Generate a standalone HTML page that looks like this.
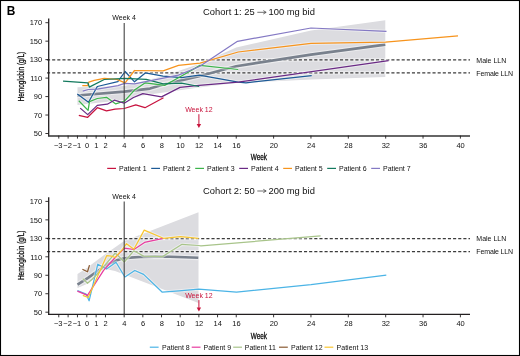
<!DOCTYPE html>
<html><head><meta charset="utf-8"><style>
html,body{margin:0;padding:0;background:#fff;width:520px;height:356px;overflow:hidden;font-family:"Liberation Sans", sans-serif;}
</style></head><body>
<svg width="520" height="356" viewBox="0 0 520 356" style="position:absolute;left:0;top:0;will-change:transform" font-family='"Liberation Sans", sans-serif'>
<rect x="0" y="0" width="520" height="356" fill="#fff"/>
<polygon points="77.5,87.2 124.2,86 163.5,76 199,64 236.2,47.5 311,30.5 385.3,20.3 385.3,77 311,79.6 236.2,83 199,87.5 163.5,92.5 142.8,95.5 124.2,100 77.5,105" fill="#dcdce0" stroke="none" />
<line x1="77" y1="59.9" x2="386" y2="59.9" stroke="#fff" stroke-opacity="0.5" stroke-width="3.2"/>
<line x1="47" y1="59.9" x2="470" y2="59.9" stroke="#3c3c3c" stroke-width="1.25" stroke-dasharray="3.1 2.04"/>
<line x1="77" y1="72.95" x2="386" y2="72.95" stroke="#fff" stroke-opacity="0.5" stroke-width="3.2"/>
<line x1="47" y1="72.95" x2="470" y2="72.95" stroke="#3c3c3c" stroke-width="1.25" stroke-dasharray="3.1 2.04"/>
<polyline points="77.5,95.5 124.2,91.6 150,88.6 163.5,84.5 199,76.2 236.2,66.2 311,54.6 385.3,44.6" fill="none" stroke="#fff" stroke-width="5.0" stroke-linejoin="round" stroke-linecap="butt" stroke-opacity="0.45"/>
<polyline points="77.5,95.5 124.2,91.6 150,88.6 163.5,84.5 199,76.2 236.2,66.2 311,54.6 385.3,44.6" fill="none" stroke="#79818d" stroke-width="2.65" stroke-linejoin="round" stroke-linecap="butt" />
<polyline points="78.8,115.4 87.7,117.3 97.3,107.7 106.5,110.8 115,109.2 124.2,108.5 135.8,104.9 145,107.7 163.5,97.7" fill="none" stroke="#fff" stroke-width="3.2" stroke-linejoin="round" stroke-linecap="butt" stroke-opacity="0.45"/>
<polyline points="77.3,94 88.5,102.3 97.3,86.5 117.8,81.6 125.1,71.5 134.5,81.8 145.3,72.9 163.1,76.2 181.5,77.7 199.2,75.1 238.2,82.1 246,82.8 311.7,75.6" fill="none" stroke="#fff" stroke-width="3.2" stroke-linejoin="round" stroke-linecap="butt" stroke-opacity="0.45"/>
<polyline points="78.8,100.8 88.1,110.4 89.5,101.7 97.3,98.5 106.5,97.3 115.8,103.9 124.6,101 134.5,90.1 145.3,82.8 164.6,85.4 178.5,77.7 200,65.4 238.2,69.5" fill="none" stroke="#fff" stroke-width="3.2" stroke-linejoin="round" stroke-linecap="butt" stroke-opacity="0.45"/>
<polyline points="80.2,108.1 87.7,114.6 97.3,105.4 107.3,104.2 114.3,100.2 124.2,103.2 133.5,97.5 142.8,93.6 161.5,96.9 180,87.4 199.2,85.4 238.2,82.1 388.6,60.6" fill="none" stroke="#fff" stroke-width="3.2" stroke-linejoin="round" stroke-linecap="butt" stroke-opacity="0.45"/>
<polyline points="82.3,85.7 87.7,85.7 88.8,82.2 94.2,80.3 104.2,78.4 116.8,79.3 125.1,82.8 134.5,70.5 163.1,70.8 178.5,65.4 200,63.1 238.2,52 311,43.4 385.5,42.1 458,35.8" fill="none" stroke="#fff" stroke-width="3.2" stroke-linejoin="round" stroke-linecap="butt" stroke-opacity="0.45"/>
<polyline points="63.05,81.2 87.9,82.8 89.3,87.1 104.2,79.5 124.6,78.3 146.3,79.3 163.1,83.8 181.5,83.1 199.2,86.5" fill="none" stroke="#fff" stroke-width="3.2" stroke-linejoin="round" stroke-linecap="butt" stroke-opacity="0.45"/>
<polyline points="82.7,91.1 88.3,89.5 97.3,89.2 118,85.7 124.6,83.3 134.5,83.8 178.5,75.2 199.5,66.5 237.5,41.3 311,28 386.5,31.4" fill="none" stroke="#fff" stroke-width="3.2" stroke-linejoin="round" stroke-linecap="butt" stroke-opacity="0.45"/>
<polyline points="78.8,115.4 87.7,117.3 97.3,107.7 106.5,110.8 115,109.2 124.2,108.5 135.8,104.9 145,107.7 163.5,97.7" fill="none" stroke="#c8133f" stroke-width="1.25" stroke-linejoin="round" stroke-linecap="butt" />
<polyline points="77.3,94 88.5,102.3 97.3,86.5 117.8,81.6 125.1,71.5 134.5,81.8 145.3,72.9 163.1,76.2 181.5,77.7 199.2,75.1 238.2,82.1 246,82.8 311.7,75.6" fill="none" stroke="#1d5a96" stroke-width="1.25" stroke-linejoin="round" stroke-linecap="butt" />
<polyline points="78.8,100.8 88.1,110.4 89.5,101.7 97.3,98.5 106.5,97.3 115.8,103.9 124.6,101 134.5,90.1 145.3,82.8 164.6,85.4 178.5,77.7 200,65.4 238.2,69.5" fill="none" stroke="#3cb44b" stroke-width="1.25" stroke-linejoin="round" stroke-linecap="butt" />
<polyline points="80.2,108.1 87.7,114.6 97.3,105.4 107.3,104.2 114.3,100.2 124.2,103.2 133.5,97.5 142.8,93.6 161.5,96.9 180,87.4 199.2,85.4 238.2,82.1 388.6,60.6" fill="none" stroke="#6a2a85" stroke-width="1.25" stroke-linejoin="round" stroke-linecap="butt" />
<polyline points="82.3,85.7 87.7,85.7 88.8,82.2 94.2,80.3 104.2,78.4 116.8,79.3 125.1,82.8 134.5,70.5 163.1,70.8 178.5,65.4 200,63.1 238.2,52 311,43.4 385.5,42.1 458,35.8" fill="none" stroke="#f7941d" stroke-width="1.25" stroke-linejoin="round" stroke-linecap="butt" />
<polyline points="63.05,81.2 87.9,82.8 89.3,87.1 104.2,79.5 124.6,78.3 146.3,79.3 163.1,83.8 181.5,83.1 199.2,86.5" fill="none" stroke="#137a5e" stroke-width="1.25" stroke-linejoin="round" stroke-linecap="butt" />
<polyline points="82.7,91.1 88.3,89.5 97.3,89.2 118,85.7 124.6,83.3 134.5,83.8 178.5,75.2 199.5,66.5 237.5,41.3 311,28 386.5,31.4" fill="none" stroke="#8479c4" stroke-width="1.25" stroke-linejoin="round" stroke-linecap="butt" />
<line x1="124.2" y1="22.9" x2="124.2" y2="135.6" stroke="#444" stroke-width="1.1"/>
<line x1="48.7" y1="18.5" x2="48.7" y2="136.2" stroke="#231f20" stroke-width="1.3"/>
<line x1="48.05" y1="135.95" x2="470" y2="135.95" stroke="#333" stroke-width="1.5"/>
<line x1="45.4" y1="133.5" x2="48.7" y2="133.5" stroke="#231f20" stroke-width="0.9"/>
<text x="42.2" y="136.2" font-size="7.5" text-anchor="end" fill="#111" font-weight="normal" >50</text>
<line x1="45.4" y1="115.03" x2="48.7" y2="115.03" stroke="#231f20" stroke-width="0.9"/>
<text x="42.2" y="117.73" font-size="7.5" text-anchor="end" fill="#111" font-weight="normal" >70</text>
<line x1="45.4" y1="96.57" x2="48.7" y2="96.57" stroke="#231f20" stroke-width="0.9"/>
<text x="42.2" y="99.27" font-size="7.5" text-anchor="end" fill="#111" font-weight="normal" >90</text>
<line x1="45.4" y1="78.1" x2="48.7" y2="78.1" stroke="#231f20" stroke-width="0.9"/>
<text x="42.2" y="80.8" font-size="7.5" text-anchor="end" fill="#111" font-weight="normal" >110</text>
<line x1="45.4" y1="59.64" x2="48.7" y2="59.64" stroke="#231f20" stroke-width="0.9"/>
<text x="42.2" y="62.34" font-size="7.5" text-anchor="end" fill="#111" font-weight="normal" >130</text>
<line x1="45.4" y1="41.17" x2="48.7" y2="41.17" stroke="#231f20" stroke-width="0.9"/>
<text x="42.2" y="43.87" font-size="7.5" text-anchor="end" fill="#111" font-weight="normal" >150</text>
<line x1="45.4" y1="22.7" x2="48.7" y2="22.7" stroke="#231f20" stroke-width="0.9"/>
<text x="42.2" y="25.4" font-size="7.5" text-anchor="end" fill="#111" font-weight="normal" >170</text>
<line x1="58.78" y1="135.6" x2="58.78" y2="138.6" stroke="#231f20" stroke-width="0.9"/>
<text x="58.28" y="147.6" font-size="7.5" text-anchor="middle" fill="#111" font-weight="normal" >−3</text>
<line x1="68.12" y1="135.6" x2="68.12" y2="138.6" stroke="#231f20" stroke-width="0.9"/>
<text x="67.62" y="147.6" font-size="7.5" text-anchor="middle" fill="#111" font-weight="normal" >−2</text>
<line x1="77.46" y1="135.6" x2="77.46" y2="138.6" stroke="#231f20" stroke-width="0.9"/>
<text x="76.96" y="147.6" font-size="7.5" text-anchor="middle" fill="#111" font-weight="normal" >−1</text>
<line x1="86.8" y1="135.6" x2="86.8" y2="138.6" stroke="#231f20" stroke-width="0.9"/>
<text x="87" y="147.6" font-size="7.5" text-anchor="middle" fill="#111" font-weight="normal" >0</text>
<line x1="96.14" y1="135.6" x2="96.14" y2="138.6" stroke="#231f20" stroke-width="0.9"/>
<text x="96.34" y="147.6" font-size="7.5" text-anchor="middle" fill="#111" font-weight="normal" >1</text>
<line x1="105.48" y1="135.6" x2="105.48" y2="138.6" stroke="#231f20" stroke-width="0.9"/>
<text x="105.68" y="147.6" font-size="7.5" text-anchor="middle" fill="#111" font-weight="normal" >2</text>
<line x1="124.16" y1="135.6" x2="124.16" y2="138.6" stroke="#231f20" stroke-width="0.9"/>
<text x="124.36" y="147.6" font-size="7.5" text-anchor="middle" fill="#111" font-weight="normal" >4</text>
<line x1="142.84" y1="135.6" x2="142.84" y2="138.6" stroke="#231f20" stroke-width="0.9"/>
<text x="143.04" y="147.6" font-size="7.5" text-anchor="middle" fill="#111" font-weight="normal" >6</text>
<line x1="161.52" y1="135.6" x2="161.52" y2="138.6" stroke="#231f20" stroke-width="0.9"/>
<text x="161.72" y="147.6" font-size="7.5" text-anchor="middle" fill="#111" font-weight="normal" >8</text>
<line x1="180.2" y1="135.6" x2="180.2" y2="138.6" stroke="#231f20" stroke-width="0.9"/>
<text x="180.4" y="147.6" font-size="7.5" text-anchor="middle" fill="#111" font-weight="normal" >10</text>
<line x1="198.88" y1="135.6" x2="198.88" y2="138.6" stroke="#231f20" stroke-width="0.9"/>
<text x="199.08" y="147.6" font-size="7.5" text-anchor="middle" fill="#111" font-weight="normal" >12</text>
<line x1="217.56" y1="135.6" x2="217.56" y2="138.6" stroke="#231f20" stroke-width="0.9"/>
<text x="217.76" y="147.6" font-size="7.5" text-anchor="middle" fill="#111" font-weight="normal" >14</text>
<line x1="236.24" y1="135.6" x2="236.24" y2="138.6" stroke="#231f20" stroke-width="0.9"/>
<text x="236.44" y="147.6" font-size="7.5" text-anchor="middle" fill="#111" font-weight="normal" >16</text>
<line x1="273.6" y1="135.6" x2="273.6" y2="138.6" stroke="#231f20" stroke-width="0.9"/>
<text x="273.8" y="147.6" font-size="7.5" text-anchor="middle" fill="#111" font-weight="normal" >20</text>
<line x1="310.96" y1="135.6" x2="310.96" y2="138.6" stroke="#231f20" stroke-width="0.9"/>
<text x="311.16" y="147.6" font-size="7.5" text-anchor="middle" fill="#111" font-weight="normal" >24</text>
<line x1="348.32" y1="135.6" x2="348.32" y2="138.6" stroke="#231f20" stroke-width="0.9"/>
<text x="348.52" y="147.6" font-size="7.5" text-anchor="middle" fill="#111" font-weight="normal" >28</text>
<line x1="385.68" y1="135.6" x2="385.68" y2="138.6" stroke="#231f20" stroke-width="0.9"/>
<text x="385.88" y="147.6" font-size="7.5" text-anchor="middle" fill="#111" font-weight="normal" >32</text>
<line x1="423.04" y1="135.6" x2="423.04" y2="138.6" stroke="#231f20" stroke-width="0.9"/>
<text x="423.24" y="147.6" font-size="7.5" text-anchor="middle" fill="#111" font-weight="normal" >36</text>
<line x1="460.4" y1="135.6" x2="460.4" y2="138.6" stroke="#231f20" stroke-width="0.9"/>
<text x="460.6" y="147.6" font-size="7.5" text-anchor="middle" fill="#111" font-weight="normal" >40</text>
<text x="124.1" y="19.8" font-size="7" text-anchor="middle" fill="#111" font-weight="normal" >Week 4</text>
<text x="476.3" y="62.5" font-size="7" text-anchor="start" fill="#111" font-weight="normal" >Male LLN</text>
<text x="476.3" y="75.6" font-size="7" text-anchor="start" fill="#111" font-weight="normal" letter-spacing="-0.14">Female LLN</text>
<text x="258.9" y="159.8" font-size="9.2" text-anchor="middle" fill="#111" font-weight="normal" stroke="#111" stroke-width="0.35" transform="translate(258.9 0) scale(0.7 1) translate(-258.9 0)">Week</text>
<text x="0" y="0" font-size="9" text-anchor="middle" fill="#111" stroke="#111" stroke-width="0.3" transform="translate(24.1 76.6) rotate(-90) scale(0.72 1)">Hemoglobin (g/L)</text>
<text x="203.1" y="14.9" font-size="9.4" text-anchor="start" fill="#111" font-weight="normal" >Cohort 1: 25</text>
<text x="314.9" y="14.9" font-size="9.4" text-anchor="end" fill="#111" font-weight="normal" >100 mg bid</text>
<line x1="257.3" y1="12.3" x2="265.5" y2="12.3" stroke="#222" stroke-width="0.65"/>
<path d="M263.3 10.6 L266.2 12.3 L263.3 14" fill="none" stroke="#222" stroke-width="0.65"/>
<text x="198.9" y="111.8" font-size="7" text-anchor="middle" fill="#c8143c" font-weight="normal" >Week 12</text>
<line x1="198.9" y1="114.2" x2="198.9" y2="124.5" stroke="#c8143c" stroke-width="1"/>
<polygon points="196.7,124 201.1,124 198.9,128" fill="#c8143c" stroke="none" />
<polygon points="77.5,274 86.8,268 96.1,261 105.5,254 124.2,241 198.5,212.2 198.5,303 124.2,274.5 115,271 105.5,269 96.1,276 86.8,284 77.5,288" fill="#dcdce0" stroke="none" />
<line x1="77" y1="238.6" x2="386" y2="238.6" stroke="#fff" stroke-opacity="0.5" stroke-width="3.2"/>
<line x1="47" y1="238.6" x2="470" y2="238.6" stroke="#3c3c3c" stroke-width="1.25" stroke-dasharray="3.1 2.04"/>
<line x1="77" y1="251.65" x2="386" y2="251.65" stroke="#fff" stroke-opacity="0.5" stroke-width="3.2"/>
<line x1="47" y1="251.65" x2="470" y2="251.65" stroke="#3c3c3c" stroke-width="1.25" stroke-dasharray="3.1 2.04"/>
<polyline points="77.5,284.7 88,277.8 98,270.8 108,264.3 116,260.6 122,258.8 130,257.6 140,257 155,256.6 170,256.7 185,257.2 198.3,257.7" fill="none" stroke="#fff" stroke-width="5.0" stroke-linejoin="round" stroke-linecap="butt" stroke-opacity="0.45"/>
<polyline points="77.5,284.7 88,277.8 98,270.8 108,264.3 116,260.6 122,258.8 130,257.6 140,257 155,256.6 170,256.7 185,257.2 198.3,257.7" fill="none" stroke="#79818d" stroke-width="2.65" stroke-linejoin="round" stroke-linecap="butt" />
<polyline points="77.4,290.7 86.1,294.1 89.1,300.8 97.8,264.2 106.5,269 116,262.2 124.9,277 134.8,270.5 143.6,274.4 162.3,292.2 179,290.8 198.7,289.2 236.5,292.1 311,284.6 386.3,275.2" fill="none" stroke="#fff" stroke-width="3.2" stroke-linejoin="round" stroke-linecap="butt" stroke-opacity="0.45"/>
<polyline points="77.4,291.1 87.5,295.4 97.3,280.2 103.6,270.4 112,261 119.1,253.5 124.4,248.2 133.9,249.5 144.5,242.4 163.3,238.3" fill="none" stroke="#fff" stroke-width="3.2" stroke-linejoin="round" stroke-linecap="butt" stroke-opacity="0.45"/>
<polyline points="82.8,278.6 87.5,283.3 92.2,279.3 98,273.2 114.9,253.5 116.6,254.2 124.3,262 133.8,250.8 143.6,256.1 162.3,256.7 182,244.3 198.5,245.5 201,245.9 320.6,235.8" fill="none" stroke="#fff" stroke-width="3.2" stroke-linejoin="round" stroke-linecap="butt" stroke-opacity="0.45"/>
<polyline points="82.4,269.2 87.5,271.8 89.5,265.1" fill="none" stroke="#fff" stroke-width="3.2" stroke-linejoin="round" stroke-linecap="butt" stroke-opacity="0.45"/>
<polyline points="82.8,295.4 88.2,297.5 106.8,255.6 111.5,256.2 115,257.5 122,250 126.5,243.7 133.9,249.3 144.2,230.1 163.3,238.3 180.5,236.7 198.5,238.3" fill="none" stroke="#fff" stroke-width="3.2" stroke-linejoin="round" stroke-linecap="butt" stroke-opacity="0.45"/>
<polyline points="77.4,290.7 86.1,294.1 89.1,300.8 97.8,264.2 106.5,269 116,262.2 124.9,277 134.8,270.5 143.6,274.4 162.3,292.2 179,290.8 198.7,289.2 236.5,292.1 311,284.6 386.3,275.2" fill="none" stroke="#4bb4e6" stroke-width="1.25" stroke-linejoin="round" stroke-linecap="butt" />
<polyline points="77.4,291.1 87.5,295.4 97.3,280.2 103.6,270.4 112,261 119.1,253.5 124.4,248.2 133.9,249.5 144.5,242.4 163.3,238.3" fill="none" stroke="#e83ca0" stroke-width="1.25" stroke-linejoin="round" stroke-linecap="butt" />
<polyline points="82.8,278.6 87.5,283.3 92.2,279.3 98,273.2 114.9,253.5 116.6,254.2 124.3,262 133.8,250.8 143.6,256.1 162.3,256.7 182,244.3 198.5,245.5 201,245.9 320.6,235.8" fill="none" stroke="#a8c48a" stroke-width="1.25" stroke-linejoin="round" stroke-linecap="butt" />
<polyline points="82.4,269.2 87.5,271.8 89.5,265.1" fill="none" stroke="#8a5a32" stroke-width="1.25" stroke-linejoin="round" stroke-linecap="butt" />
<polyline points="82.8,295.4 88.2,297.5 106.8,255.6 111.5,256.2 115,257.5 122,250 126.5,243.7 133.9,249.3 144.2,230.1 163.3,238.3 180.5,236.7 198.5,238.3" fill="none" stroke="#f9c630" stroke-width="1.25" stroke-linejoin="round" stroke-linecap="butt" />
<line x1="124.2" y1="201.6" x2="124.2" y2="314.3" stroke="#444" stroke-width="1.1"/>
<line x1="48.7" y1="197.2" x2="48.7" y2="314.9" stroke="#231f20" stroke-width="1.3"/>
<line x1="48.05" y1="314.4" x2="470" y2="314.4" stroke="#231f20" stroke-width="1.3"/>
<line x1="45.4" y1="312.2" x2="48.7" y2="312.2" stroke="#231f20" stroke-width="0.9"/>
<text x="42.2" y="314.9" font-size="7.5" text-anchor="end" fill="#111" font-weight="normal" >50</text>
<line x1="45.4" y1="293.73" x2="48.7" y2="293.73" stroke="#231f20" stroke-width="0.9"/>
<text x="42.2" y="296.43" font-size="7.5" text-anchor="end" fill="#111" font-weight="normal" >70</text>
<line x1="45.4" y1="275.27" x2="48.7" y2="275.27" stroke="#231f20" stroke-width="0.9"/>
<text x="42.2" y="277.97" font-size="7.5" text-anchor="end" fill="#111" font-weight="normal" >90</text>
<line x1="45.4" y1="256.8" x2="48.7" y2="256.8" stroke="#231f20" stroke-width="0.9"/>
<text x="42.2" y="259.5" font-size="7.5" text-anchor="end" fill="#111" font-weight="normal" >110</text>
<line x1="45.4" y1="238.34" x2="48.7" y2="238.34" stroke="#231f20" stroke-width="0.9"/>
<text x="42.2" y="241.04" font-size="7.5" text-anchor="end" fill="#111" font-weight="normal" >130</text>
<line x1="45.4" y1="219.87" x2="48.7" y2="219.87" stroke="#231f20" stroke-width="0.9"/>
<text x="42.2" y="222.57" font-size="7.5" text-anchor="end" fill="#111" font-weight="normal" >150</text>
<line x1="45.4" y1="201.4" x2="48.7" y2="201.4" stroke="#231f20" stroke-width="0.9"/>
<text x="42.2" y="204.1" font-size="7.5" text-anchor="end" fill="#111" font-weight="normal" >170</text>
<line x1="58.78" y1="314.3" x2="58.78" y2="317.3" stroke="#231f20" stroke-width="0.9"/>
<text x="58.28" y="326.3" font-size="7.5" text-anchor="middle" fill="#111" font-weight="normal" >−3</text>
<line x1="68.12" y1="314.3" x2="68.12" y2="317.3" stroke="#231f20" stroke-width="0.9"/>
<text x="67.62" y="326.3" font-size="7.5" text-anchor="middle" fill="#111" font-weight="normal" >−2</text>
<line x1="77.46" y1="314.3" x2="77.46" y2="317.3" stroke="#231f20" stroke-width="0.9"/>
<text x="76.96" y="326.3" font-size="7.5" text-anchor="middle" fill="#111" font-weight="normal" >−1</text>
<line x1="86.8" y1="314.3" x2="86.8" y2="317.3" stroke="#231f20" stroke-width="0.9"/>
<text x="87" y="326.3" font-size="7.5" text-anchor="middle" fill="#111" font-weight="normal" >0</text>
<line x1="96.14" y1="314.3" x2="96.14" y2="317.3" stroke="#231f20" stroke-width="0.9"/>
<text x="96.34" y="326.3" font-size="7.5" text-anchor="middle" fill="#111" font-weight="normal" >1</text>
<line x1="105.48" y1="314.3" x2="105.48" y2="317.3" stroke="#231f20" stroke-width="0.9"/>
<text x="105.68" y="326.3" font-size="7.5" text-anchor="middle" fill="#111" font-weight="normal" >2</text>
<line x1="124.16" y1="314.3" x2="124.16" y2="317.3" stroke="#231f20" stroke-width="0.9"/>
<text x="124.36" y="326.3" font-size="7.5" text-anchor="middle" fill="#111" font-weight="normal" >4</text>
<line x1="142.84" y1="314.3" x2="142.84" y2="317.3" stroke="#231f20" stroke-width="0.9"/>
<text x="143.04" y="326.3" font-size="7.5" text-anchor="middle" fill="#111" font-weight="normal" >6</text>
<line x1="161.52" y1="314.3" x2="161.52" y2="317.3" stroke="#231f20" stroke-width="0.9"/>
<text x="161.72" y="326.3" font-size="7.5" text-anchor="middle" fill="#111" font-weight="normal" >8</text>
<line x1="180.2" y1="314.3" x2="180.2" y2="317.3" stroke="#231f20" stroke-width="0.9"/>
<text x="180.4" y="326.3" font-size="7.5" text-anchor="middle" fill="#111" font-weight="normal" >10</text>
<line x1="198.88" y1="314.3" x2="198.88" y2="317.3" stroke="#231f20" stroke-width="0.9"/>
<text x="199.08" y="326.3" font-size="7.5" text-anchor="middle" fill="#111" font-weight="normal" >12</text>
<line x1="217.56" y1="314.3" x2="217.56" y2="317.3" stroke="#231f20" stroke-width="0.9"/>
<text x="217.76" y="326.3" font-size="7.5" text-anchor="middle" fill="#111" font-weight="normal" >14</text>
<line x1="236.24" y1="314.3" x2="236.24" y2="317.3" stroke="#231f20" stroke-width="0.9"/>
<text x="236.44" y="326.3" font-size="7.5" text-anchor="middle" fill="#111" font-weight="normal" >16</text>
<line x1="273.6" y1="314.3" x2="273.6" y2="317.3" stroke="#231f20" stroke-width="0.9"/>
<text x="273.8" y="326.3" font-size="7.5" text-anchor="middle" fill="#111" font-weight="normal" >20</text>
<line x1="310.96" y1="314.3" x2="310.96" y2="317.3" stroke="#231f20" stroke-width="0.9"/>
<text x="311.16" y="326.3" font-size="7.5" text-anchor="middle" fill="#111" font-weight="normal" >24</text>
<line x1="348.32" y1="314.3" x2="348.32" y2="317.3" stroke="#231f20" stroke-width="0.9"/>
<text x="348.52" y="326.3" font-size="7.5" text-anchor="middle" fill="#111" font-weight="normal" >28</text>
<line x1="385.68" y1="314.3" x2="385.68" y2="317.3" stroke="#231f20" stroke-width="0.9"/>
<text x="385.88" y="326.3" font-size="7.5" text-anchor="middle" fill="#111" font-weight="normal" >32</text>
<line x1="423.04" y1="314.3" x2="423.04" y2="317.3" stroke="#231f20" stroke-width="0.9"/>
<text x="423.24" y="326.3" font-size="7.5" text-anchor="middle" fill="#111" font-weight="normal" >36</text>
<line x1="460.4" y1="314.3" x2="460.4" y2="317.3" stroke="#231f20" stroke-width="0.9"/>
<text x="460.6" y="326.3" font-size="7.5" text-anchor="middle" fill="#111" font-weight="normal" >40</text>
<text x="124.1" y="198.5" font-size="7" text-anchor="middle" fill="#111" font-weight="normal" >Week 4</text>
<text x="476.3" y="241.2" font-size="7" text-anchor="start" fill="#111" font-weight="normal" >Male LLN</text>
<text x="476.3" y="254.3" font-size="7" text-anchor="start" fill="#111" font-weight="normal" letter-spacing="-0.14">Female LLN</text>
<text x="258.9" y="339.4" font-size="9.2" text-anchor="middle" fill="#111" font-weight="normal" stroke="#111" stroke-width="0.35" transform="translate(258.9 0) scale(0.7 1) translate(-258.9 0)">Week</text>
<text x="0" y="0" font-size="9" text-anchor="middle" fill="#111" stroke="#111" stroke-width="0.3" transform="translate(24.1 255.3) rotate(-90) scale(0.72 1)">Hemoglobin (g/L)</text>
<text x="203.1" y="193.6" font-size="9.4" text-anchor="start" fill="#111" font-weight="normal" >Cohort 2: 50</text>
<text x="314.9" y="193.6" font-size="9.4" text-anchor="end" fill="#111" font-weight="normal" >200 mg bid</text>
<line x1="257.3" y1="191" x2="265.5" y2="191" stroke="#222" stroke-width="0.65"/>
<path d="M263.3 189.3 L266.2 191 L263.3 192.7" fill="none" stroke="#222" stroke-width="0.65"/>
<text x="198.9" y="297.7" font-size="7" text-anchor="middle" fill="#c8143c" font-weight="normal" >Week 12</text>
<line x1="198.9" y1="300.1" x2="198.9" y2="307.9" stroke="#c8143c" stroke-width="1"/>
<polygon points="196.7,307.4 201.1,307.4 198.9,311.4" fill="#c8143c" stroke="none" />
<line x1="107.2" y1="168.4" x2="116" y2="168.4" stroke="#c8133f" stroke-width="1.2"/>
<text x="119" y="170.9" font-size="7" text-anchor="start" fill="#111" font-weight="normal" >Patient 1</text>
<line x1="151.2" y1="168.4" x2="160" y2="168.4" stroke="#1d5a96" stroke-width="1.2"/>
<text x="163" y="170.9" font-size="7" text-anchor="start" fill="#111" font-weight="normal" >Patient 2</text>
<line x1="195.2" y1="168.4" x2="204" y2="168.4" stroke="#3cb44b" stroke-width="1.2"/>
<text x="207" y="170.9" font-size="7" text-anchor="start" fill="#111" font-weight="normal" >Patient 3</text>
<line x1="239.2" y1="168.4" x2="248" y2="168.4" stroke="#6a2a85" stroke-width="1.2"/>
<text x="251" y="170.9" font-size="7" text-anchor="start" fill="#111" font-weight="normal" >Patient 4</text>
<line x1="283.2" y1="168.4" x2="292" y2="168.4" stroke="#f7941d" stroke-width="1.2"/>
<text x="295" y="170.9" font-size="7" text-anchor="start" fill="#111" font-weight="normal" >Patient 5</text>
<line x1="327.2" y1="168.4" x2="336" y2="168.4" stroke="#137a5e" stroke-width="1.2"/>
<text x="339" y="170.9" font-size="7" text-anchor="start" fill="#111" font-weight="normal" >Patient 6</text>
<line x1="371.2" y1="168.4" x2="380" y2="168.4" stroke="#8479c4" stroke-width="1.2"/>
<text x="383" y="170.9" font-size="7" text-anchor="start" fill="#111" font-weight="normal" >Patient 7</text>
<line x1="149.8" y1="347.2" x2="158.6" y2="347.2" stroke="#4bb4e6" stroke-width="1.2"/>
<text x="162.1" y="349.7" font-size="7" text-anchor="start" fill="#111" font-weight="normal" >Patient 8</text>
<line x1="191.7" y1="347.2" x2="200.5" y2="347.2" stroke="#e83ca0" stroke-width="1.2"/>
<text x="203.5" y="349.7" font-size="7" text-anchor="start" fill="#111" font-weight="normal" >Patient 9</text>
<line x1="233.2" y1="347.2" x2="242" y2="347.2" stroke="#a8c48a" stroke-width="1.2"/>
<text x="244.8" y="349.7" font-size="7" text-anchor="start" fill="#111" font-weight="normal" >Patient 11</text>
<line x1="279" y1="347.2" x2="287.8" y2="347.2" stroke="#8a5a32" stroke-width="1.2"/>
<text x="291" y="349.7" font-size="7" text-anchor="start" fill="#111" font-weight="normal" >Patient 12</text>
<line x1="324.5" y1="347.2" x2="333.3" y2="347.2" stroke="#f9c630" stroke-width="1.2"/>
<text x="336.6" y="349.7" font-size="7" text-anchor="start" fill="#111" font-weight="normal" >Patient 13</text>
<text x="6.8" y="14.6" font-size="11.9" text-anchor="start" fill="#000" font-weight="bold" >B</text>
<rect x="0.5" y="0.5" width="519" height="355" fill="none" stroke="#000" stroke-width="1.1"/>
</svg>
</body></html>
